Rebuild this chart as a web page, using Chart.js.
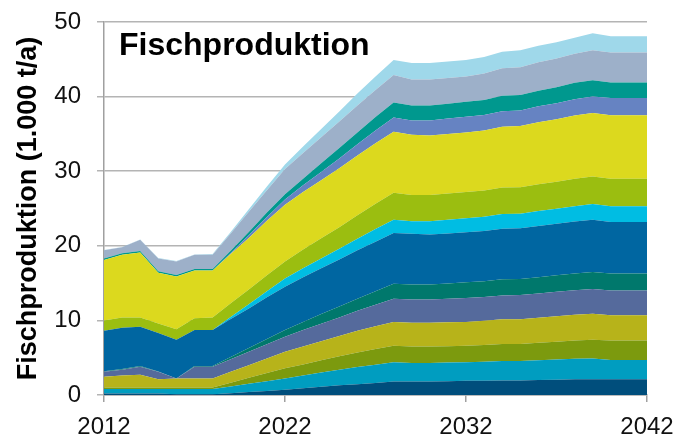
<!DOCTYPE html>
<html>
<head>
<meta charset="utf-8">
<script src="https://cdn.jsdelivr.net/npm/chart.js@4"></script>
<style>
  html, body { margin: 0; padding: 0; background: #fff; }
  #wrap { width: 679px; height: 437px; }
</style>
</head>
<body>
<div id="wrap"><canvas id="c" width="679" height="437"></canvas></div>
<script>
// Jahre und Achsenbeschriftung
const years = ['2012','2013','2014','2015','2016','2017','2018','2019','2020','2021','2022',
  '2023','2024','2025','2026','2027','2028','2029','2030','2031','2032',
  '2033','2034','2035','2036','2037','2038','2039','2040','2041','2042'];
const tickYears = ['2012', '2022', '2032', '2042'];
const yTicks = [0, 10, 20, 30, 40, 50];

// Schichten von unten nach oben (1.000 t/a)
const s1  = [0.2,0.2,0.2,0.2,0.1,0.1,0.1,0.25,0.4,0.55,0.7,0.9,1.1,1.3,1.45,1.6,1.8,1.8,1.8,1.85,1.9,1.9,1.95,1.95,2.0,2.05,2.1,2.1,2.1,2.1,2.1];
const s2  = [0.6,0.6,0.6,0.6,0.7,0.7,0.7,0.9,1.1,1.3,1.5,1.7,1.9,2.1,2.3,2.45,2.6,2.5,2.5,2.5,2.5,2.55,2.6,2.6,2.65,2.7,2.75,2.8,2.6,2.6,2.6];
const s3  = [0.2,0.2,0.2,0.2,0.2,0.2,0.2,0.5,0.8,1.1,1.4,1.5,1.65,1.8,1.95,2.1,2.2,2.2,2.2,2.2,2.2,2.25,2.3,2.3,2.35,2.4,2.45,2.5,2.6,2.6,2.6];
const s4  = [1.45,1.6,1.7,1.1,1.2,1.2,1.2,1.45,1.7,1.95,2.2,2.4,2.55,2.7,2.9,3.05,3.2,3.2,3.2,3.2,3.2,3.25,3.3,3.3,3.35,3.4,3.45,3.5,3.4,3.4,3.4];
const s5  = [0.65,0.8,1.1,1.0,0,1.6,1.6,1.7,1.8,1.9,2.0,2.2,2.35,2.5,2.7,2.9,3.1,3.1,3.1,3.15,3.2,3.2,3.2,3.25,3.25,3.3,3.3,3.3,3.3,3.3,3.3];
const s6  = [0.1,0.1,0.1,0.05,0,0.1,0.1,0.3,0.5,0.7,0.9,1.1,1.3,1.45,1.6,1.8,2.0,2.0,2.0,2.05,2.1,2.1,2.15,2.15,2.2,2.2,2.25,2.3,2.3,2.3,2.3];
const s7  = [5.4,5.5,5.25,5.15,5.2,4.8,4.8,5.1,5.3,5.6,5.8,6.0,6.15,6.3,6.5,6.65,6.8,6.8,6.7,6.7,6.7,6.75,6.8,6.8,6.85,6.9,6.95,7.0,6.9,6.9,6.9];
const s8  = [0,0,0,0,0,0,0,0.25,0.55,0.8,1.1,1.2,1.3,1.45,1.55,1.7,1.8,1.7,1.8,1.85,1.9,1.9,1.95,1.95,2.0,2.0,2.05,2.1,2.1,2.1,2.1];
const s9  = [1.4,1.4,1.25,1.3,1.4,1.6,1.7,1.85,2.0,2.15,2.3,2.5,2.7,2.9,3.15,3.4,3.6,3.5,3.5,3.5,3.5,3.5,3.55,3.55,3.6,3.65,3.7,3.7,3.7,3.7,3.7];
const s10 = [8.1,8.4,8.7,6.8,7.1,6.4,6.3,6.6,6.9,7.3,7.6,7.7,7.8,7.9,8.0,8.1,8.2,8.1,8.0,8.0,8.0,8.05,8.15,8.2,8.3,8.35,8.45,8.5,8.5,8.5,8.5];
const s11 = [0,0,0,0,0,0,0,0.15,0.35,0.5,0.7,0.9,1.1,1.3,1.5,1.7,1.9,1.9,2.0,2.05,2.1,2.1,2.1,2.1,2.15,2.15,2.2,2.2,2.3,2.3,2.3];
const s12 = [0.2,0.2,0.2,0.2,0.2,0.2,0.2,0.3,0.45,0.6,0.7,0.9,1.15,1.4,1.6,1.8,2.0,2.0,2.0,2.0,2.0,2.0,2.05,2.05,2.1,2.15,2.2,2.2,2.1,2.1,2.1];
const s13 = [1.1,0.8,1.5,1.7,1.8,1.9,1.9,2.3,2.7,3.0,3.4,3.45,3.5,3.55,3.6,3.65,3.7,3.5,3.5,3.45,3.4,3.55,3.7,3.75,3.8,3.85,3.9,4.0,4.0,4.0,4.0];
const s14 = [0.05,0.05,0.05,0.05,0.05,0.05,0.1,0.2,0.35,0.5,0.6,0.85,1.1,1.35,1.6,1.8,2.0,2.2,2.2,2.2,2.2,2.2,2.2,2.25,2.2,2.2,2.15,2.3,2.2,2.2,2.2];

const series = [s1, s2, s3, s4, s5, s6, s7, s8, s9, s10, s11, s12, s13, s14];
const colors = ['#004e7c', '#009dc0', '#7c9a0e', '#b7b31a', '#556a9c', '#00786c', '#0066a1',
  '#00bde3', '#9bbe10', '#dcd91e', '#6683c2', '#00988e', '#9db0c9', '#9fd8ea'];

const FONT = "'Liberation Sans', Arial, sans-serif";
const gridGray = '#b4b4b4';
const axisGray = '#a0a0a0';

const innerTitle = {
  id: 'innerTitle',
  afterDraw(chart) {
    const ctx = chart.ctx;
    ctx.save();
    ctx.font = 'bold 32px ' + FONT;
    ctx.fillStyle = '#000';
    ctx.textAlign = 'left';
    ctx.textBaseline = 'alphabetic';
    ctx.fillText('Fischproduktion', 119, 55);
    ctx.restore();
  }
};

new Chart(document.getElementById('c'), {
  type: 'line',
  data: {
    labels: years,
    datasets: series.map((d, i) => ({
      label: 'Serie ' + (i + 1),
      data: d,
      backgroundColor: colors[i],
      borderColor: 'rgba(0,0,0,0)',
      borderWidth: 0,
      pointRadius: 0,
      tension: 0,
      fill: i === 0 ? 'origin' : '-1'
    }))
  },
  options: {
    responsive: false,
    animation: false,
    devicePixelRatio: 1,
    layout: { padding: { left: 0, right: 32, top: 22, bottom: 0 } },
    plugins: {
      legend: { display: false },
      tooltip: { enabled: false }
    },
    scales: {
      x: {
        offset: false,
        afterFit: (s) => { s.height = 42; s.paddingLeft = 0; s.paddingRight = 0; },
        grid: {
          drawOnChartArea: false,
          tickLength: 7,
          lineWidth: 1.5,
          color: (c) => tickYears.includes(years[c.index]) ? axisGray : 'rgba(0,0,0,0)'
        },
        border: { color: axisGray, width: 1.5 },
        ticks: {
          autoSkip: false,
          maxRotation: 0,
          padding: 11,
          color: '#111',
          font: { family: FONT, size: 24 },
          callback: (v, i) => tickYears.includes(years[i]) ? years[i] : ''
        }
      },
      y: {
        stacked: true,
        min: 0,
        max: 50,
        afterFit: (s) => { s.width = 104; s.paddingTop = 0; s.paddingBottom = 0; },
        afterBuildTicks: (s) => { s.ticks = yTicks.map(v => ({ value: v })); },
        grid: { color: gridGray, lineWidth: 1.5, tickLength: 7 },
        border: { color: axisGray, width: 1.5 },
        ticks: {
          padding: 16,
          color: '#111',
          font: { family: FONT, size: 24 }
        },
        title: {
          display: true,
          text: 'Fischproduktion (1.000 t/a)',
          color: '#000',
          font: { family: FONT, size: 27, weight: 'bold' },
          padding: { top: 12, bottom: 0 }
        }
      }
    }
  },
  plugins: [innerTitle]
});
</script>
</body>
</html>
